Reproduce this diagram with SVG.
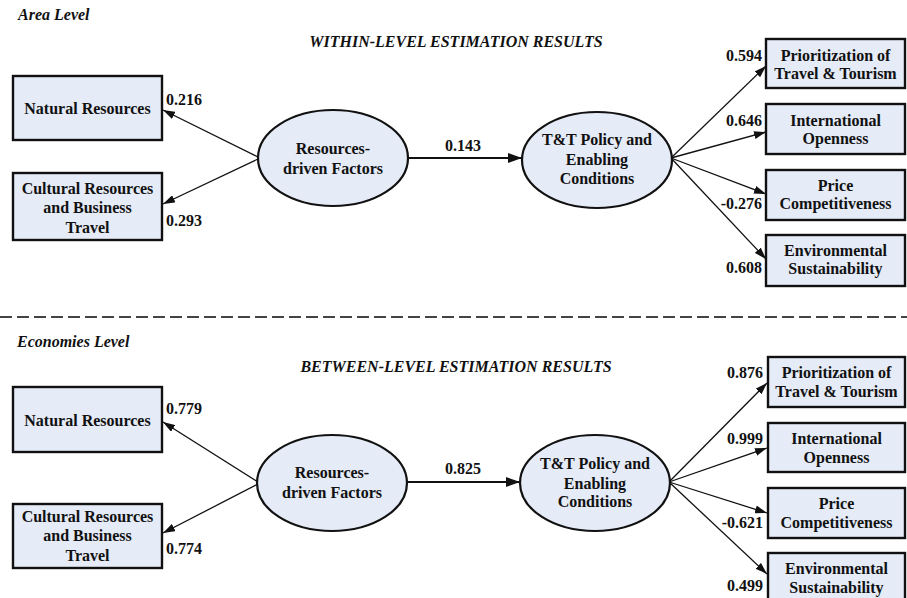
<svg xmlns="http://www.w3.org/2000/svg" width="907" height="598" viewBox="0 0 907 598">
  <style>
    text { font-family: 'Liberation Serif', 'DejaVu Serif', serif; font-weight: bold; font-size: 16px; fill: #111; }
    .box { fill: #e5ebf7; stroke: #111; stroke-width: 2.4; }
    .ell { fill: #e5ebf7; stroke: #111; stroke-width: 2.2; }
    .t { text-anchor: middle; }
    .hd { font-style: italic; }
    .edge { stroke: #111; stroke-width: 1.3; fill: none; marker-end: url(#ah); }
    .edge2 { stroke: #111; stroke-width: 2.2; fill: none; marker-end: url(#ah2); }
    .sep { stroke: #444; stroke-width: 2; stroke-dasharray: 12 5; }
  </style>
  <defs>
    <marker id="ah" viewBox="0 0 12 8" refX="12" refY="4" markerWidth="12" markerHeight="8" markerUnits="userSpaceOnUse" orient="auto">
      <path d="M0,0 L12,4 L0,8 Z" fill="#111"/>
    </marker>
    <marker id="ah2" viewBox="0 0 14 10" refX="14" refY="5" markerWidth="14" markerHeight="10" markerUnits="userSpaceOnUse" orient="auto">
      <path d="M0,0 L14,5 L0,10 Z" fill="#111"/>
    </marker>
  </defs>

  <!-- headings -->
  <text class="hd" x="18" y="20">Area Level</text>
  <text class="hd" x="456" y="47" text-anchor="middle">WITHIN-LEVEL ESTIMATION RESULTS</text>
  <line class="sep" x1="0" y1="317" x2="907" y2="317"/>
  <text class="hd" x="17" y="347">Economies Level</text>
  <text class="hd" x="456" y="372" text-anchor="middle">BETWEEN-LEVEL ESTIMATION RESULTS</text>

  <!-- connectors -->
  <g id="connectors">
    <line class="edge" x1="258" y1="157" x2="163" y2="110"/>
    <line class="edge" x1="258" y1="159" x2="163" y2="204"/>
    <line class="edge2" x1="408" y1="158" x2="522" y2="158"/>
    <line class="edge" x1="671" y1="158" x2="766" y2="66"/>
    <line class="edge" x1="671" y1="158" x2="766" y2="132"/>
    <line class="edge" x1="671" y1="158" x2="766" y2="194"/>
    <line class="edge" x1="671" y1="158" x2="766" y2="259"/>

    <line class="edge" x1="258" y1="482" x2="163" y2="422"/>
    <line class="edge" x1="258" y1="484" x2="163" y2="533"/>
    <line class="edge2" x1="407" y1="482" x2="520" y2="482"/>
    <line class="edge" x1="669" y1="482" x2="767" y2="383"/>
    <line class="edge" x1="669" y1="482" x2="767" y2="448"/>
    <line class="edge" x1="669" y1="482" x2="767" y2="513"/>
    <line class="edge" x1="669" y1="482" x2="767" y2="574"/>
  </g>

  <!-- path coefficients -->
  <g id="coefficients">
    <text x="166" y="105">0.216</text>
    <text x="166" y="226">0.293</text>
    <text x="463" y="151" text-anchor="middle">0.143</text>
    <text x="762" y="61" text-anchor="end">0.594</text>
    <text x="762" y="126" text-anchor="end">0.646</text>
    <text x="762" y="209" text-anchor="end">-0.276</text>
    <text x="762" y="273" text-anchor="end">0.608</text>

    <text x="166" y="414">0.779</text>
    <text x="166" y="554">0.774</text>
    <text x="463" y="474" text-anchor="middle">0.825</text>
    <text x="763" y="378" text-anchor="end">0.876</text>
    <text x="763" y="444" text-anchor="end">0.999</text>
    <text x="763" y="528" text-anchor="end">-0.621</text>
    <text x="763" y="591" text-anchor="end">0.499</text>
  </g>

  <!-- within level -->
  <g id="w-natural">
    <rect class="box" x="13" y="76" width="149" height="64"/>
    <text class="t" x="87.5" y="114">Natural Resources</text>
  </g>
  <g id="w-cultural">
    <rect class="box" x="13" y="173" width="149" height="67"/>
    <text class="t" x="87.5" y="194">Cultural Resources</text>
    <text class="t" x="87.5" y="213">and Business</text>
    <text class="t" x="87.5" y="233">Travel</text>
  </g>
  <g id="w-resources">
    <ellipse class="ell" cx="333" cy="158" rx="75" ry="48"/>
    <text class="t" x="333" y="154">Resources-</text>
    <text class="t" x="333" y="174">driven Factors</text>
  </g>
  <g id="w-policy">
    <ellipse class="ell" cx="597" cy="160" rx="75" ry="48"/>
    <text class="t" x="597" y="145">T&amp;T Policy and</text>
    <text class="t" x="597" y="165">Enabling</text>
    <text class="t" x="597" y="184">Conditions</text>
  </g>
  <g id="w-prior">
    <rect class="box" x="766" y="39" width="139" height="49"/>
    <text class="t" x="835.5" y="61">Prioritization of</text>
    <text class="t" x="835.5" y="79">Travel &amp; Tourism</text>
  </g>
  <g id="w-intl">
    <rect class="box" x="766" y="104" width="139" height="50"/>
    <text class="t" x="835.5" y="126">International</text>
    <text class="t" x="835.5" y="144">Openness</text>
  </g>
  <g id="w-price">
    <rect class="box" x="766" y="170" width="139" height="50"/>
    <text class="t" x="835.5" y="191">Price</text>
    <text class="t" x="835.5" y="209">Competitiveness</text>
  </g>
  <g id="w-env">
    <rect class="box" x="766" y="235" width="139" height="51"/>
    <text class="t" x="835.5" y="256">Environmental</text>
    <text class="t" x="835.5" y="274">Sustainability</text>
  </g>

  <!-- between level -->
  <g id="b-natural">
    <rect class="box" x="13" y="387" width="149" height="65"/>
    <text class="t" x="87.5" y="426">Natural Resources</text>
  </g>
  <g id="b-cultural">
    <rect class="box" x="13" y="504" width="149" height="64"/>
    <text class="t" x="87.5" y="522">Cultural Resources</text>
    <text class="t" x="87.5" y="541">and Business</text>
    <text class="t" x="87.5" y="561">Travel</text>
  </g>
  <g id="b-resources">
    <ellipse class="ell" cx="332" cy="483" rx="75" ry="48"/>
    <text class="t" x="332" y="478">Resources-</text>
    <text class="t" x="332" y="498">driven Factors</text>
  </g>
  <g id="b-policy">
    <ellipse class="ell" cx="595" cy="483" rx="75" ry="48"/>
    <text class="t" x="595" y="469">T&amp;T Policy and</text>
    <text class="t" x="595" y="489">Enabling</text>
    <text class="t" x="595" y="507">Conditions</text>
  </g>
  <g id="b-prior">
    <rect class="box" x="768" y="357" width="137" height="50"/>
    <text class="t" x="836.5" y="378">Prioritization of</text>
    <text class="t" x="836.5" y="397">Travel &amp; Tourism</text>
  </g>
  <g id="b-intl">
    <rect class="box" x="768" y="423" width="137" height="49"/>
    <text class="t" x="836.5" y="444">International</text>
    <text class="t" x="836.5" y="463">Openness</text>
  </g>
  <g id="b-price">
    <rect class="box" x="768" y="488" width="137" height="50"/>
    <text class="t" x="836.5" y="509">Price</text>
    <text class="t" x="836.5" y="528">Competitiveness</text>
  </g>
  <g id="b-env">
    <rect class="box" x="768" y="553" width="137" height="50"/>
    <text class="t" x="836.5" y="574">Environmental</text>
    <text class="t" x="836.5" y="593">Sustainability</text>
  </g>
</svg>
